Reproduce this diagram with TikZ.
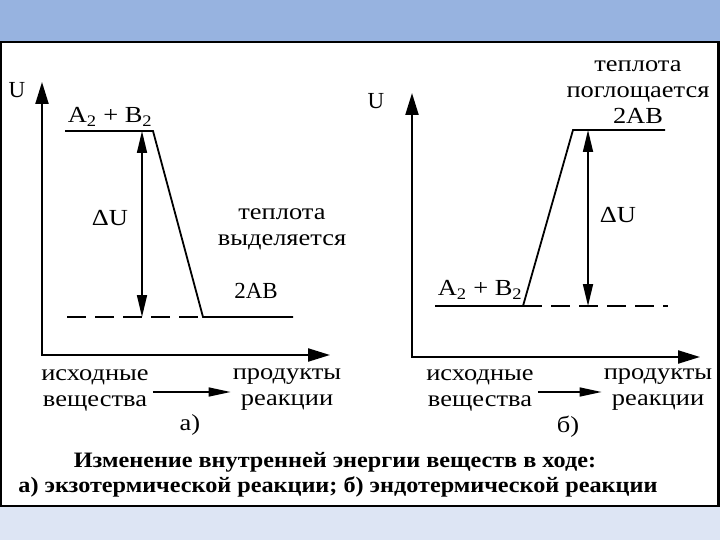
\documentclass[tikz,border=0pt]{standalone}
\usepackage{fontspec}
\setmainfont{Liberation Serif}
\newfontfamily\wideserif{Liberation Serif}[FakeStretch=1.15]
\newfontfamily\capserif{Liberation Serif}[FakeStretch=1.1]
\usetikzlibrary{arrows.meta}
\definecolor{topband}{RGB}{151,179,224}
\definecolor{botband}{RGB}{221,229,244}
\tikzset{
  lbl/.style={inner sep=0pt, font=\wideserif\fontsize{23}{26}\selectfont, align=center},
  latinlbl/.style={inner sep=0pt, font=\fontsize{23}{26}\selectfont, align=center},
  captext/.style={inner sep=0pt, font=\capserif\fontsize{22}{26}\selectfont\bfseries},
  axisline/.style={line width=2.2pt, {Triangle[length=22pt,width=13pt]}-{Triangle[length=22pt,width=13pt]}},
  levelline/.style={line width=1.8pt},
  dashlevel/.style={line width=1.8pt, dash pattern=on 19pt off 9pt},
  deltaarrow/.style={line width=1.7pt, {Triangle[length=22pt,width=10pt]}-{Triangle[length=22pt,width=10pt]}},
  smallarrow/.style={line width=1.5pt, -{Triangle[length=22pt,width=9pt]}}
}
\begin{document}
\begin{tikzpicture}[x=1pt,y=-1pt]
\useasboundingbox (0,0) rectangle (720,540);
\fill[topband] (0,0) rectangle (720,42);
\fill[botband] (0,506) rectangle (720,540);
\draw[line width=2.5pt, fill=white] (1,42) rectangle (718.5,506);

% left diagram
\coordinate (ya) at (42,82);
\coordinate (oa) at (42,355);
\coordinate (xa) at (330,355);
\draw[axisline] (ya) -- (oa) -- (xa);
\node[latinlbl] (Ua) at (17,90) {U};
\coordinate (ta1) at (65,131);
\coordinate (ta2) at (153,131);
\coordinate (ba1) at (203,317);
\coordinate (ba2) at (293,317);
\coordinate (da) at (67,317);
\draw[levelline] (ta1) -- (ta2) -- (ba1) -- (ba2);
\draw[dashlevel] (da) -- (ba1);
\coordinate (dua) at (142,131);
\coordinate (dub) at (142,317);
\draw[deltaarrow] (dua) -- (dub);
\node[lbl] (reacta) at (110,117) {A\textsubscript{2} + B\textsubscript{2}};
\node[lbl] (dUa) at (110,218) {ΔU};
\node[lbl] (heata) at (282,229) {теплота\\выделяется};
\node[latinlbl] (proda) at (256,291) {2AB};
\node[lbl] (srca) at (95,390) {исходные\\вещества};
\node[lbl] (prdla) at (287,390) {продукты\\реакции};
\draw[smallarrow] ([xshift=4pt,yshift=-2pt]srca.east) -- ([xshift=-2pt,yshift=-2pt]prdla.west);
\node[lbl] (labela) at (190,425) {а)};

% right diagram
\coordinate (yb) at (412,93);
\coordinate (ob) at (412,357);
\coordinate (xb) at (700,357);
\draw[axisline] (yb) -- (ob) -- (xb);
\node[latinlbl] (Ub) at (376,101) {U};
\coordinate (lb1) at (435,306);
\coordinate (lb2) at (523,306);
\coordinate (hb1) at (573,130);
\coordinate (hb2) at (665,130);
\coordinate (db) at (668,306);
\draw[levelline] (lb1) -- (lb2) -- (hb1) -- (hb2);
\draw[dashlevel] (lb2) -- (db);
\coordinate (dub1) at (588,130);
\coordinate (dub2) at (588,306);
\draw[deltaarrow] (dub1) -- (dub2);
\node[lbl] (heatb) at (638,92) {теплота\\поглощается\\2AB};
\node[lbl] (dUb) at (618,215) {ΔU};
\node[lbl] (reactb) at (480,290) {A\textsubscript{2} + B\textsubscript{2}};
\node[lbl] (srcb) at (480,390) {исходные\\вещества};
\node[lbl] (prdlb) at (658,390) {продукты\\реакции};
\draw[smallarrow] ([xshift=4pt,yshift=-2pt]srcb.east) -- ([xshift=-2pt,yshift=-2pt]prdlb.west);
\node[lbl] (labelb) at (568,427) {б)};

% caption
\node[captext] (cap1) at (335,462) {Изменение внутренней энергии веществ в ходе:};
\node[captext] (cap2) at (338,487) {а) экзотермической реакции; б) эндотермической реакции};
\end{tikzpicture}
\end{document}
